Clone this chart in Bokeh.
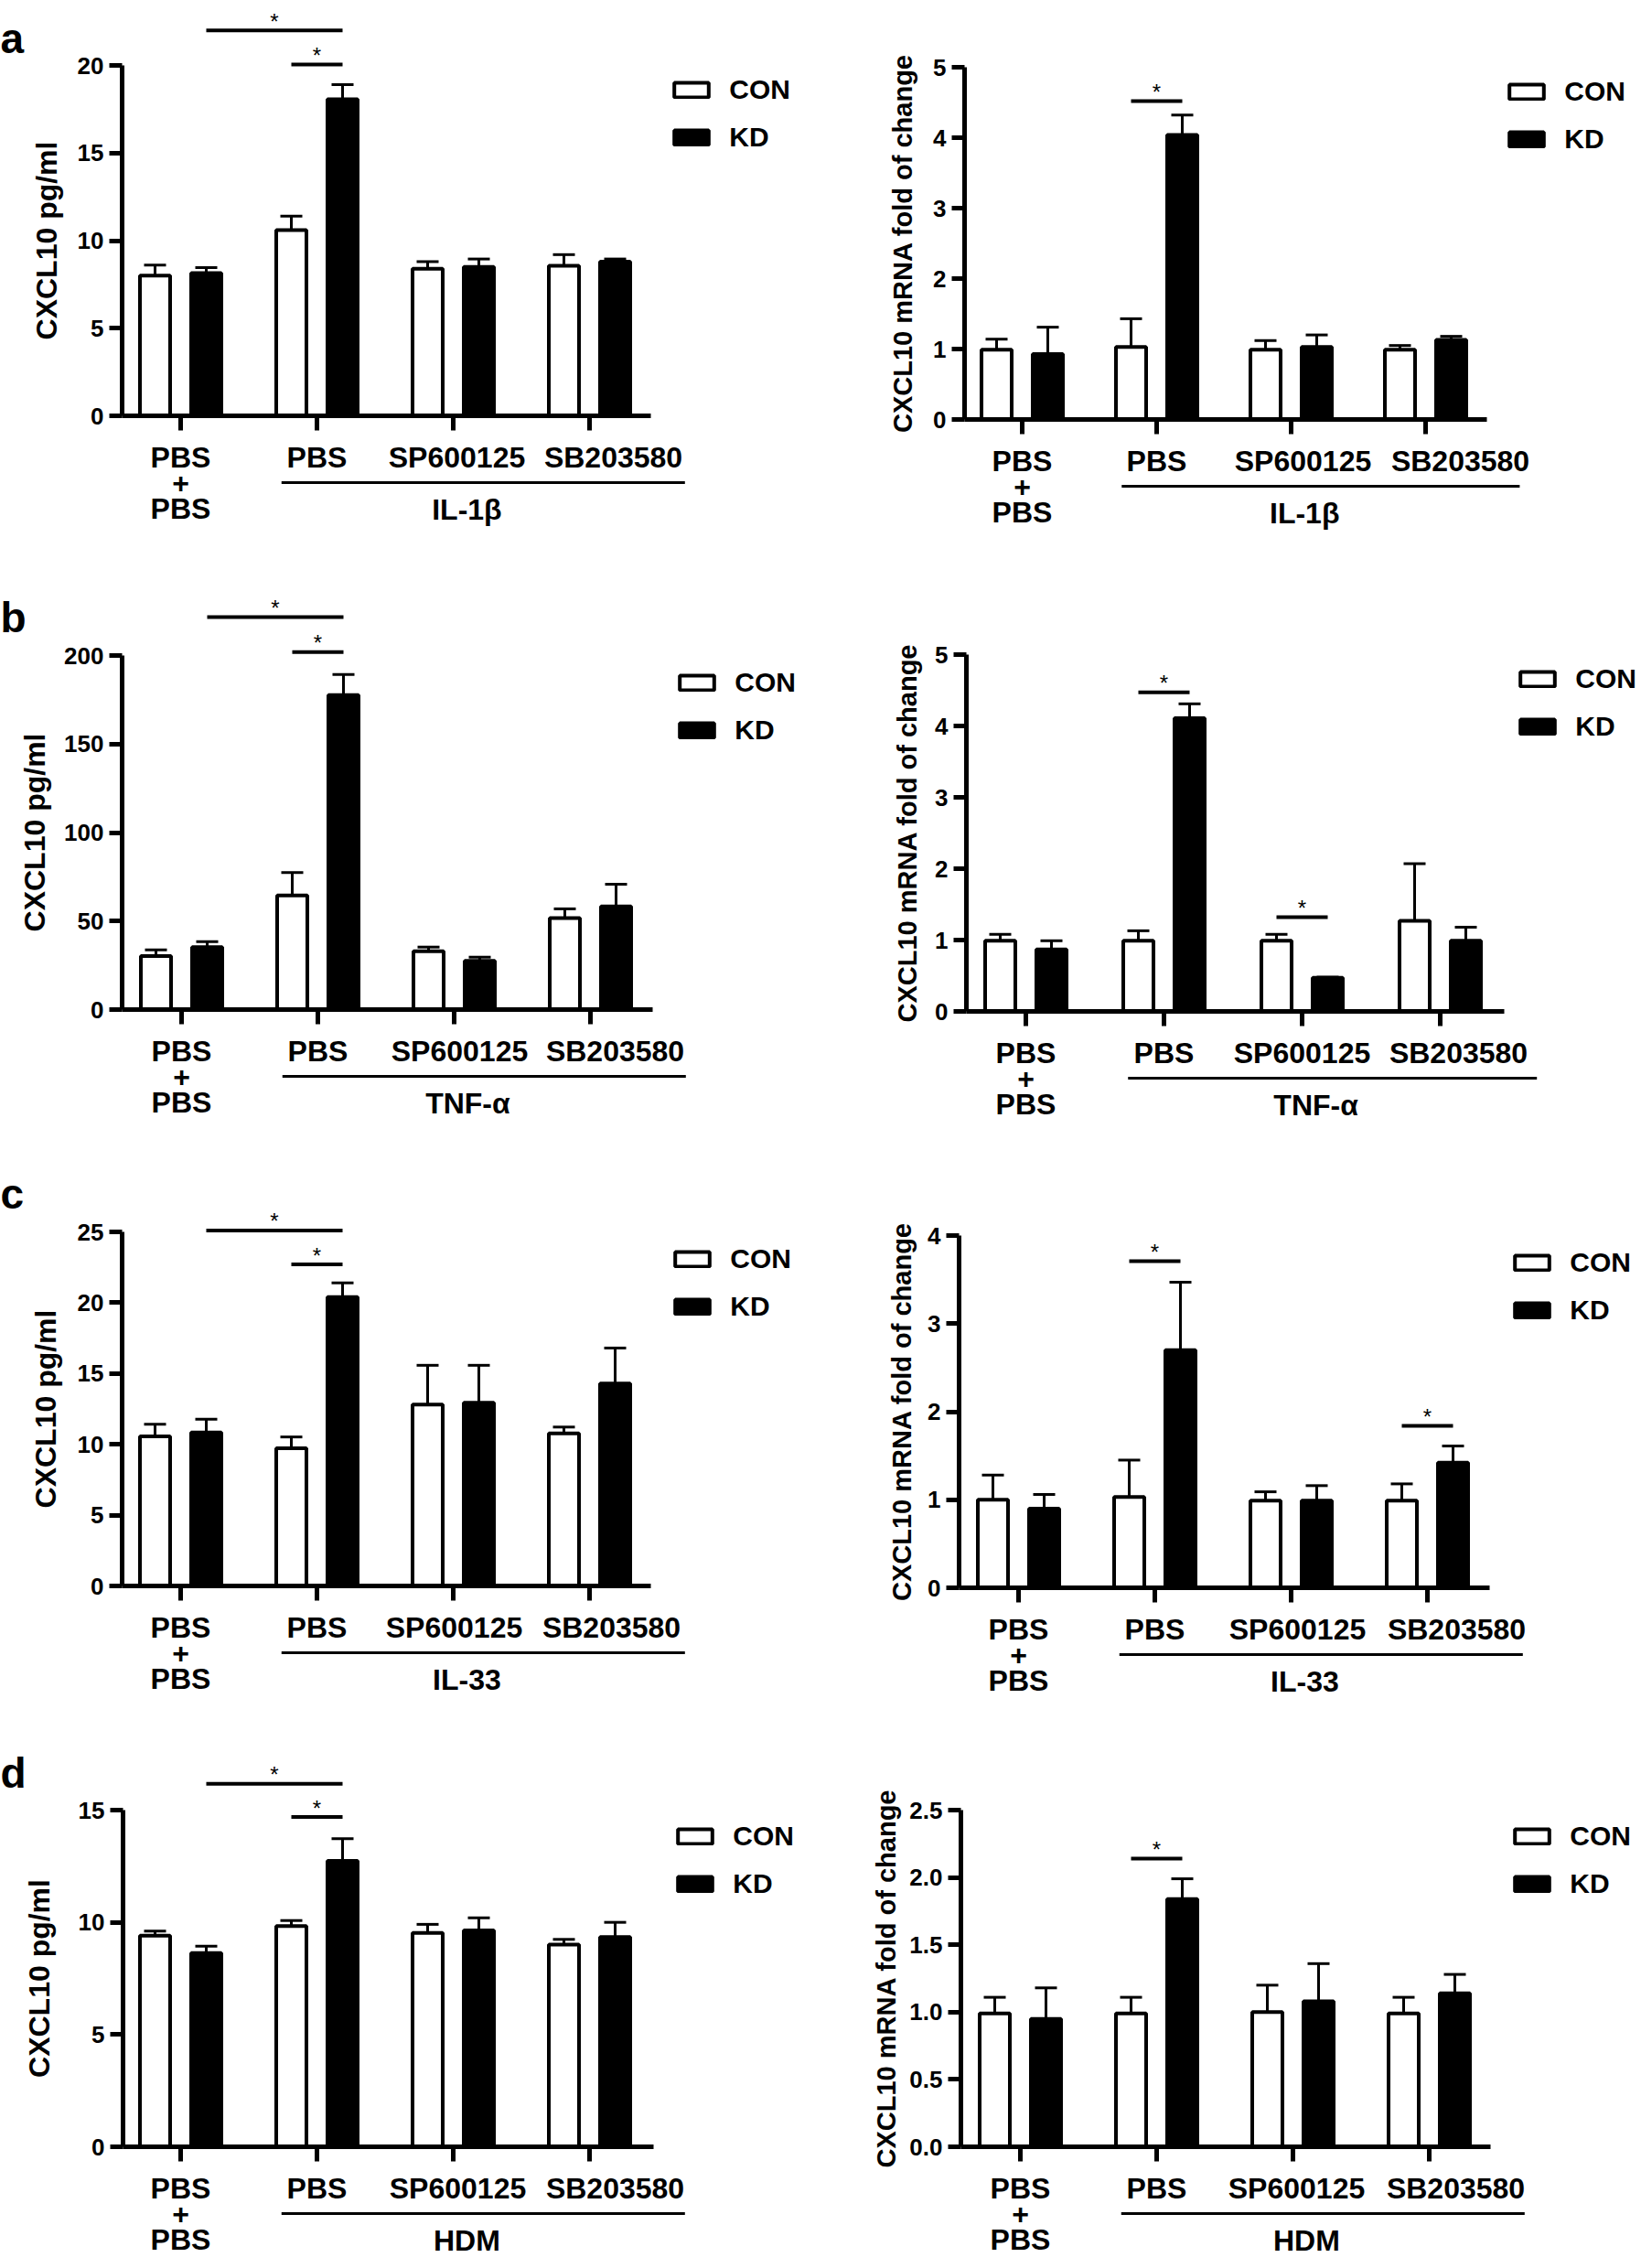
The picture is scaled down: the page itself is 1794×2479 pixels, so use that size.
from bokeh.plotting import figure
from bokeh.models import (Range1d, FixedTicker, ColumnDataSource, Whisker, TeeHead,
                          Legend, LegendItem, NumeralTickFormatter, LinearAxis)
from bokeh.layouts import column, row
from bokeh.embed import file_html
from bokeh.resources import INLINE
from bokeh.core.properties import value

# ---------------- data ----------------
categories = ["PBS\n+\nPBS", "PBS", "SP600125", "SB203580"]
series = ["CON", "KD"]
stimuli = ["IL-1β", "TNF-α", "IL-33", "HDM"]
panel_letters = ["a", "b", "c", "d"]
ylabel_protein = "CXCL10 pg/ml"
ylabel_mrna = "CXCL10 mRNA fold of change"

# (a) IL-1β
a_pg_con = [8.0, 10.6, 8.4, 8.56]
a_pg_con_err = [0.6, 0.8, 0.4, 0.64]
a_pg_kd = [8.14, 18.07, 8.5, 8.8]
a_pg_kd_err = [0.32, 0.83, 0.45, 0.15]
a_mrna_con = [0.99, 1.03, 0.99, 0.99]
a_mrna_con_err = [0.15, 0.40, 0.13, 0.06]
a_mrna_kd = [0.93, 4.04, 1.03, 1.13]
a_mrna_kd_err = [0.38, 0.28, 0.17, 0.05]
# (b) TNF-α
b_pg_con = [30.2, 64.5, 32.9, 51.7]
b_pg_con_err = [3.5, 12.9, 2.4, 5.2]
b_pg_kd = [35.3, 177.6, 27.5, 58.3]
b_pg_kd_err = [3.1, 11.7, 2.1, 12.5]
b_mrna_con = [0.99, 0.99, 0.99, 1.27]
b_mrna_con_err = [0.09, 0.14, 0.09, 0.80]
b_mrna_kd = [0.87, 4.11, 0.47, 0.99]
b_mrna_kd_err = [0.12, 0.20, 0.01, 0.19]
# (c) IL-33
c_pg_con = [10.57, 9.73, 12.8, 10.78]
c_pg_con_err = [0.85, 0.79, 2.78, 0.44]
c_pg_kd = [10.83, 20.4, 12.94, 14.3]
c_pg_kd_err = [0.95, 1.0, 2.64, 2.5]
c_mrna_con = [1.0, 1.03, 0.99, 0.99]
c_mrna_con_err = [0.28, 0.42, 0.10, 0.19]
c_mrna_kd = [0.90, 2.70, 0.99, 1.42]
c_mrna_kd_err = [0.16, 0.77, 0.17, 0.19]
# (d) HDM
d_pg_con = [9.41, 9.83, 9.53, 9.01]
d_pg_con_err = [0.20, 0.25, 0.38, 0.23]
d_pg_kd = [8.63, 12.74, 9.64, 9.34]
d_pg_kd_err = [0.31, 0.99, 0.56, 0.66]
d_mrna_con = [0.99, 0.99, 1.0, 0.99]
d_mrna_con_err = [0.12, 0.12, 0.20, 0.12]
d_mrna_kd = [0.95, 1.84, 1.08, 1.14]
d_mrna_kd_err = [0.23, 0.15, 0.28, 0.14]

# y ticks
a_pg_ticks = [0, 5, 10, 15, 20]
a_mrna_ticks = [0, 1, 2, 3, 4, 5]
b_pg_ticks = [0, 50, 100, 150, 200]
b_mrna_ticks = [0, 1, 2, 3, 4, 5]
c_pg_ticks = [0, 5, 10, 15, 20, 25]
c_mrna_ticks = [0, 1, 2, 3, 4]
d_pg_ticks = [0, 5, 10, 15]
d_mrna_ticks = [0, 0.5, 1.0, 1.5, 2.0, 2.5]

# significance brackets: (category_from, series_from, category_to, series_to, height)
a_pg_sig = [(0, "KD", 1, "KD", 22.0), (1, "CON", 1, "KD", 20.05)]
a_mrna_sig = [(1, "CON", 1, "KD", 4.52)]
b_pg_sig = [(0, "KD", 1, "KD", 221.7), (1, "CON", 1, "KD", 202.0)]
b_mrna_sig = [(1, "CON", 1, "KD", 4.47), (2, "CON", 2, "KD", 1.32)]
c_pg_sig = [(0, "KD", 1, "KD", 25.1), (1, "CON", 1, "KD", 22.7)]
c_mrna_sig = [(1, "CON", 1, "KD", 3.71), (3, "CON", 3, "KD", 1.84)]
d_pg_sig = [(0, "KD", 1, "KD", 16.17), (1, "CON", 1, "KD", 14.69)]
d_mrna_sig = [(1, "CON", 1, "KD", 2.14)]

FONT = "Liberation Sans"

# ---------------- layout geometry (page pixels) ----------------
ROWS = [(0, 620), (620, 630), (1250, 630), (1880, 599)]
# vertical nudges per row: (top of plot, zero line) -- last row lifted so its labels fit
ROW_DY = [(0, 0), (0, 0), (0, 0), (-6, -24)]
COLS = [(0, 900), (900, 894)]
GEOM = {
    ("a", 0): dict(y0=454, ytop=71, yaxis_x=133, cat0=197, dcat=149, xend=711, leg=(735, 87),
                   shift=(4, 26), ylab_std=13),
    ("a", 1): dict(y0=458, ytop=73, yaxis_x=1054, cat0=1117, dcat=147, xend=1625, leg=(1648, 89),
                   shift=(13, 38), ylab_std=14),
    ("b", 0): dict(y0=1103, ytop=716, yaxis_x=133, cat0=198, dcat=149, xend=713, leg=(741, 735),
                   shift=(6, 27), ylab_std=11),
    ("b", 1): dict(y0=1105, ytop=715, yaxis_x=1056, cat0=1121, dcat=151, xend=1644, leg=(1660, 731),
                   shift=(0, 20), ylab_std=11),
    ("c", 0): dict(y0=1733, ytop=1346, yaxis_x=133, cat0=197, dcat=149, xend=711, leg=(736, 1365),
                   shift=(1, 24), ylab_std=14),
    ("c", 1): dict(y0=1735, ytop=1350, yaxis_x=1048, cat0=1113, dcat=149, xend=1628, leg=(1654, 1369),
                   shift=(7, 32), ylab_std=9),
    ("d", 0): dict(y0=2370, ytop=1984, yaxis_x=134, cat0=197, dcat=149, xend=714, leg=(739, 2002),
                   shift=(5, 28), ylab_std=22),
    ("d", 1): dict(y0=2370, ytop=1984, yaxis_x=1050, cat0=1115, dcat=149, xend=1629, leg=(1654, 2002),
                   shift=(4, 29), ylab_std=6),
}
LETTER_BASE = {"a": 41, "b": 674, "c": 1304, "d": 1943}


def style_text_axis(ax, size):
    ax.major_label_text_font = FONT
    ax.major_label_text_font_size = size
    ax.major_label_text_font_style = "bold"
    ax.major_label_text_color = "black"


def make_panel(letter, col, con, con_err, kd, kd_err, ticks, sig, ylabel, stim, fmt):
    ri = panel_letters.index(letter)
    rtop, H = ROWS[ri]
    dy_top, dy_zero = ROW_DY[ri]
    cleft, W = COLS[col]
    g = GEOM[(letter, col)]
    y0px = g["y0"] + dy_zero
    ytpx = g["ytop"] + dy_top
    topval = ticks[-1]
    pxu = (y0px - ytpx) / topval
    dcat = g["dcat"]

    def x2d(px):
        return (px - g["cat0"]) / dcat

    def y2d(py):
        return (y0px - py) / pxu

    p = figure(width=W, height=H,
               x_range=Range1d(x2d(cleft), x2d(cleft + W)),
               y_range=Range1d(y2d(rtop + H), y2d(rtop)),
               output_backend="svg", toolbar_location=None,
               min_border=0, outline_line_color=None)
    p.grid.visible = False
    p.background_fill_color = "white"
    p.border_fill_color = "white"

    off = 28 / dcat
    bw = 33 / dcat
    xs = list(range(len(categories)))
    src_con = ColumnDataSource(dict(x=[i - off for i in xs], top=con,
                                    upper=[v + e for v, e in zip(con, con_err)]))
    src_kd = ColumnDataSource(dict(x=[i + off for i in xs], top=kd,
                                   upper=[v + e for v, e in zip(kd, kd_err)]))
    for src in (src_con, src_kd):
        w = Whisker(source=src, base="x", lower="top", upper="upper", dimension="height",
                    line_width=3, line_color="black",
                    upper_head=TeeHead(size=24, line_width=3, line_color="black"),
                    lower_head=None, level="glyph")
        p.add_layout(w)
    r_con = p.vbar(x="x", top="top", width=bw, bottom=0, source=src_con,
                   fill_color="white", line_color="black", line_width=4)
    r_kd = p.vbar(x="x", top="top", width=bw, bottom=0, source=src_kd,
                  fill_color="black", line_color="black", line_width=4)

    # significance brackets
    sx0, sx1, sy, tx = [], [], [], []
    for c0, s0, c1, s1, h in sig:
        a0 = c0 + (-off if s0 == "CON" else off)
        a1 = c1 + (-off if s1 == "CON" else off)
        sx0.append(a0); sx1.append(a1); sy.append(h); tx.append((a0 + a1) / 2)
    p.segment(x0=sx0, x1=sx1, y0=sy, y1=sy, line_width=4, line_color="black")
    p.text(x=tx, y=sy, text=["*"] * len(tx), text_align="center", text_baseline="middle",
           y_offset=-10, text_font=value(FONT), text_font_size="24px", text_color="black")

    # x axis: line and category ticks
    xa = p.xaxis[0]
    xa.fixed_location = 0
    xa.ticker = FixedTicker(ticks=xs)
    xa.major_label_overrides = {i: "" for i in xs}
    xa.bounds = (x2d(g["yaxis_x"]), x2d(g["xend"]))
    xa.axis_line_width = 5
    xa.major_tick_line_width = 5
    xa.major_tick_out = 16
    xa.major_tick_in = 0
    xa.minor_tick_out = 0
    xa.minor_tick_in = 0

    # x axis: category labels (the last ones nudged right, as in the original)
    sp_s, sb_s = g["shift"]
    lab_pos = [0, 1, 2 + sp_s / dcat, 3 + sb_s / dcat]
    la = LinearAxis(fixed_location=0, ticker=FixedTicker(ticks=lab_pos),
                    major_label_overrides={t: c for t, c in zip(lab_pos, categories)},
                    axis_line_color=None, major_tick_line_color=None,
                    minor_tick_line_color=None, major_tick_out=16, major_tick_in=0,
                    minor_tick_out=0, minor_tick_in=0, major_label_standoff=11)
    style_text_axis(la, "32px")
    la.major_label_text_line_height = 0.783
    p.add_layout(la, "below")

    # y axis
    ya = p.yaxis[0]
    ya.fixed_location = x2d(g["yaxis_x"])
    ya.bounds = (0, topval)
    ya.ticker = FixedTicker(ticks=ticks)
    ya.formatter = NumeralTickFormatter(format=fmt)
    ya.axis_line_width = 5
    ya.major_tick_line_width = 5
    ya.major_tick_out = 14
    ya.major_tick_in = 0
    ya.minor_tick_out = 0
    ya.minor_tick_in = 0
    ya.major_label_standoff = 6
    style_text_axis(ya, "26px")
    ya.axis_label = ylabel
    ya.axis_label_text_font = FONT
    ya.axis_label_text_font_size = "32px" if col == 0 else "29px"
    ya.axis_label_text_font_style = "bold"
    ya.axis_label_text_color = "black"
    ya.axis_label_standoff = g["ylab_std"]

    # stimulus group underline and label
    uy = y2d(y0px + 73)
    p.segment(x0=[0.74], x1=[3.70], y0=[uy], y1=[uy], line_width=3, line_color="black")
    p.text(x=[2.1], y=[y2d(y0px + 102)], text=[stim], text_align="center",
           text_baseline="alphabetic", text_font=value(FONT), text_font_size="32px",
           text_font_style="bold", text_color="black")

    # panel letter
    if col == 0:
        p.text(x=[x2d(cleft)], y=[y2d(LETTER_BASE[letter] + dy_top)], text=[letter],
               text_align="left", text_baseline="alphabetic", text_font=value(FONT),
               text_font_size="46px", text_font_style="bold", text_color="black")

    # legend
    lx, ly = g["leg"]
    ly += dy_top
    item_h = 33.5
    spacing = 18
    gh = 20
    leg_h = 2 * item_h + spacing
    leg_top = ly - (item_h - gh) / 2 + 2
    legend = Legend(items=[LegendItem(label=series[0], renderers=[r_con]),
                           LegendItem(label=series[1], renderers=[r_kd])],
                    location=(lx + 2 - 4.75 - cleft, H - (leg_top - rtop + leg_h)),
                    border_line_color=None, background_fill_alpha=0,
                    padding=0, margin=0, spacing=spacing,
                    glyph_width=47, glyph_height=gh, label_standoff=18,
                    label_text_font=FONT, label_text_font_size="30px",
                    label_text_font_style="bold", label_text_color="black")
    p.add_layout(legend)
    return p


panels = [
    ("a", a_pg_con, a_pg_con_err, a_pg_kd, a_pg_kd_err, a_pg_ticks, a_pg_sig,
     a_mrna_con, a_mrna_con_err, a_mrna_kd, a_mrna_kd_err, a_mrna_ticks, a_mrna_sig, "0"),
    ("b", b_pg_con, b_pg_con_err, b_pg_kd, b_pg_kd_err, b_pg_ticks, b_pg_sig,
     b_mrna_con, b_mrna_con_err, b_mrna_kd, b_mrna_kd_err, b_mrna_ticks, b_mrna_sig, "0"),
    ("c", c_pg_con, c_pg_con_err, c_pg_kd, c_pg_kd_err, c_pg_ticks, c_pg_sig,
     c_mrna_con, c_mrna_con_err, c_mrna_kd, c_mrna_kd_err, c_mrna_ticks, c_mrna_sig, "0"),
    ("d", d_pg_con, d_pg_con_err, d_pg_kd, d_pg_kd_err, d_pg_ticks, d_pg_sig,
     d_mrna_con, d_mrna_con_err, d_mrna_kd, d_mrna_kd_err, d_mrna_ticks, d_mrna_sig, "0.0"),
]

rows = []
for k, (letter, pc, pce, pk, pke, pt, ps, mc, mce, mk, mke, mt, ms, mfmt) in enumerate(panels):
    left = make_panel(letter, 0, pc, pce, pk, pke, pt, ps, ylabel_protein, stimuli[k], "0")
    right = make_panel(letter, 1, mc, mce, mk, mke, mt, ms, ylabel_mrna, stimuli[k], mfmt)
    rows.append(row(left, right, spacing=0))

layout = column(*rows, spacing=0)
open("out.html", "w").write(file_html(layout, INLINE))
